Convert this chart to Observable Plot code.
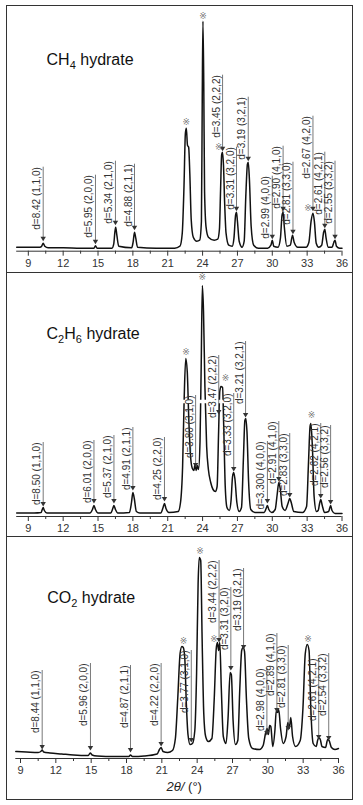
<!DOCTYPE html>
<html><head><meta charset="utf-8">
<script src="https://cdn.jsdelivr.net/npm/d3@7"></script>
<script src="https://cdn.jsdelivr.net/npm/@observablehq/plot@0.6"></script>
<style>
body{margin:0;background:#fff;font-family:"Liberation Sans",Arial,sans-serif;}
#frame{position:absolute;left:6px;top:5px;width:345px;border:1px solid #333;}
.panel + .panel{border-top:1px solid #333;}
.panel svg{display:block;}
</style></head><body><div id="frame"></div>
<script>
// ---- shared axis values ----
const majorTicks = [9, 12, 15, 18, 21, 24, 27, 30, 33, 36];
const minorTicks = [10.5, 13.5, 16.5, 19.5, 22.5, 25.5, 28.5, 31.5, 34.5];
const xLabel = "2θ/ (°)";
const titles = ["CH4 hydrate", "C2H6 hydrate", "CO2 hydrate"];

// ---- CH4 hydrate: [2θ, intensity] ----
const ch4Pattern = [[8,4],[9,4],[10,4],[10.15,5],[10.28,8],[10.42,5],[10.7,3.5],[12,3.5],[13.5,3],[14.65,3],[14.78,5.5],[14.92,3],[16.2,3],[16.35,7],[16.45,19],[16.52,24],[16.62,16],[16.78,5],[17.9,3.5],[18.02,9],[18.14,19],[18.25,13],[18.4,4],[20,3],[21.6,3],[22.05,5],[22.25,18],[22.4,65],[22.52,118],[22.6,123],[22.7,106],[22.8,104],[22.9,78],[23.02,32],[23.2,14],[23.5,10],[23.75,11],[23.9,30],[23.97,150],[24.03,230],[24.1,170],[24.17,60],[24.3,24],[24.5,14],[25.0,11],[25.3,12],[25.45,22],[25.55,62],[25.64,96],[25.71,99],[25.8,86],[25.9,48],[26.02,18],[26.25,6],[26.55,5],[26.7,13],[26.84,36],[26.92,39],[27.0,30],[27.15,10],[27.4,4],[27.58,10],[27.72,55],[27.86,87],[27.93,89],[28.03,72],[28.18,25],[28.4,6],[28.8,3],[29.6,3],[29.88,6],[30.0,11],[30.12,5],[30.5,4],[30.7,13],[30.84,36],[30.93,39],[31.03,25],[31.25,5],[31.55,6],[31.74,16],[31.88,9],[32.2,4],[32.9,4],[33.15,9],[33.34,30],[33.5,38],[33.62,30],[33.78,8],[34.0,4],[34.25,6],[34.42,19],[34.52,22],[34.62,14],[34.82,4],[35.15,4],[35.3,9],[35.4,11],[35.52,5],[35.8,3],[36,3]];
// [2θ, arrow tip, top of leader, text]
const ch4Labels = [
  [10.28, 12, 84, "d=8.42 (1,1,0)"],
  [14.78, 9, 76, "d=5.95 (2,0,0)"],
  [16.5, 28, 90, "d=5.34 (2,1,0)"],
  [18.14, 23, 87, "d=4.88 (2,1,1)"],
  [25.72, 102, 176, "d=3.45 (2,2,2)"],
  [26.92, 42, 104, "d=3.31 (3,2,0)"],
  [27.93, 92, 154, "d=3.19 (3,2,1)"],
  [30.0, 14, 75, "d=2.99 (4,0,0)"],
  [30.93, 42, 105, "d=2.90 (4,1,0)"],
  [31.78, 19, 89, "d=2.81 (3,3,0)"],
  [33.5, 42, 135, "d=2.67 (4,2,0)"],
  [34.52, 25, 99, "d=2.61 (4,2,1)"],
  [35.4, 14, 90, "d=2.55 (3,3,2)"]
];
const ch4Stars = [[22.6, 129], [24.03, 235], [25.4, 104], [33.08, 43]];

// ---- C2H6 hydrate ----
const c2h6Pattern = [[8,3.5],[9.5,3.5],[10.1,4],[10.2,7],[10.28,9],[10.38,6],[10.6,3.5],[12,3.5],[14.3,3.5],[14.52,7],[14.65,11],[14.78,7],[15.0,3.5],[16.1,3.5],[16.27,8],[16.37,11],[16.5,7],[16.7,3.5],[17.7,4],[17.88,14],[18.0,24],[18.12,18],[18.3,5],[18.6,3.5],[20.4,3.5],[20.6,9],[20.72,13],[20.85,8],[21.1,4],[21.9,5],[22.1,14],[22.28,50],[22.42,120],[22.55,158],[22.68,145],[22.82,95],[22.98,58],[23.12,48],[23.25,46],[23.35,52],[23.45,46],[23.55,51],[23.65,47],[23.78,75],[23.88,150],[23.98,231],[24.08,205],[24.2,130],[24.35,70],[24.5,47],[24.7,34],[24.9,27],[25.1,25],[25.25,30],[25.38,85],[25.48,125],[25.58,130],[25.72,129],[25.82,90],[25.95,30],[26.1,9],[26.3,6],[26.45,16],[26.58,40],[26.68,44],[26.78,38],[26.95,14],[27.15,5],[27.35,9],[27.52,60],[27.64,96],[27.72,98],[27.82,85],[27.96,35],[28.15,7],[28.5,4],[29.3,4],[29.47,8],[29.58,11],[29.7,7],[29.95,4],[30.25,7],[30.42,22],[30.56,34],[30.68,28],[30.85,10],[31.1,6],[31.35,13],[31.5,18],[31.63,14],[31.85,5],[32.6,4],[32.95,10],[33.12,55],[33.25,90],[33.32,93],[33.45,70],[33.6,20],[33.8,5],[33.95,6],[34.07,13],[34.17,17],[34.3,11],[34.5,4],[34.85,5],[35.02,11],[35.14,6],[35.4,3],[36,3]];
const c2h6Labels = [
  [10.28, 12, 74, "d=8.50 (1,1,0)"],
  [14.65, 15, 76, "d=6.01 (2,0,0)"],
  [16.37, 15, 81, "d=5.37 (2,1,0)"],
  [18.0, 28, 89, "d=4.91 (2,1,1)"],
  [20.72, 17, 79, "d=4.25 (2,2,0)"],
  [23.4, 51, 121, "d=3.80 (3,1,0)"],
  [25.39, 104, 161, "d=3.47 (2,2,2)"],
  [26.68, 47, 123, "d=3.33 (3,2,0)"],
  [27.7, 101, 175, "d=3.21 (3,2,1)"],
  [29.58, 15, 75, "d=3.300 (4,0,0)"],
  [30.56, 37, 95, "d=2.91 (4,1,0)"],
  [31.5, 21, 83, "d=2.83 (3,3,0)"],
  [34.17, 20, 93, "d=2.62 (4,2,1)"],
  [35.02, 14, 91, "d=2.56 (3,3,2)"]
];
const c2h6Stars = [[22.58, 164], [23.98, 239], [25.97, 138], [33.38, 101]];
const c2h6Gap = [[22.3, 25.95, 115]];

// ---- CO2 hydrate ----
const co2Pattern = [[8.6,7],[9.5,6.5],[10.5,6],[10.72,7],[10.84,8.5],[10.96,6.5],[11.5,5.5],[12.5,4.5],[13.5,3.5],[14.75,3],[14.92,5.5],[15.08,3.5],[15.5,2.5],[17,2],[18.2,2],[18.34,3.5],[18.5,2],[19.5,2.5],[20.6,4.5],[20.8,9],[20.94,11],[21.1,7],[21.5,6],[21.9,8],[22.15,20],[22.35,60],[22.55,105],[22.7,112],[22.82,111],[22.95,100],[23.08,55],[23.22,24],[23.4,14],[23.6,15],[23.8,28],[23.95,85],[24.08,175],[24.18,201],[24.3,198],[24.42,120],[24.56,45],[24.72,22],[24.95,17],[25.25,20],[25.45,60],[25.62,110],[25.72,116],[25.82,108],[25.92,116],[26.05,70],[26.22,22],[26.45,15],[26.62,40],[26.8,86],[26.9,84],[27.05,38],[27.25,14],[27.45,18],[27.62,70],[27.78,108],[27.9,111],[28.02,107],[28.18,60],[28.38,20],[28.7,10],[29.3,9],[29.6,13],[29.82,26],[29.94,30],[30.05,24],[30.15,33],[30.25,32],[30.42,12],[30.6,28],[30.72,48],[30.82,46],[30.92,49],[31.08,30],[31.3,15],[31.55,22],[31.7,36],[31.82,30],[31.95,41],[32.1,22],[32.35,12],[32.75,18],[32.98,50],[33.18,105],[33.35,114],[33.5,108],[33.65,50],[33.85,15],[34.1,12],[34.28,20],[34.42,20],[34.6,12],[34.9,11],[35.08,19],[35.2,18],[35.4,11],[35.7,9],[36,10]];
const co2Labels = [
  [10.84, 11, 88, "d=8.44 (1,1,0)"],
  [14.94, 10, 95, "d=5.96 (2,0,0)"],
  [18.34, 8, 93, "d=4.87 (2,1,1)"],
  [20.94, 14, 95, "d=4.22 (2,2,0)"],
  [23.5, 18, 108, "d=3.77 (3,1,0)"],
  [25.86, 118, 198, "d=3.44 (2,2,2)"],
  [26.86, 90, 171, "d=3.31 (3,2,0)"],
  [27.94, 111, 190, "d=3.19 (3,2,1)"],
  [29.92, 25, 90, "d=2.98 (4,0,0)"],
  [30.77, 48, 125, "d=2.89 (4,1,0)"],
  [31.73, 30, 113, "d=2.81 (3,3,0)"],
  [34.32, 21, 100, "d=2.61 (4,2,1)"],
  [35.17, 20, 105, "d=2.54 (3,3,2)"]
];
const co2Stars = [[22.84, 117], [24.25, 207], [25.44, 119], [33.42, 119]];

const FONT = '"Liberation Sans", Arial, sans-serif';

function panel(cfg) {
  const labs = cfg.labels.map(([x, tip, top, text]) => ({x, tip, top, text}));
  const marks = [
    Plot.ruleY([0], {stroke: "#333", strokeWidth: 1}),
    Plot.axisX({ticks: minorTicks, tickSize: 3, tickFormat: () => "", color: "#333", label: null}),
    Plot.axisX({ticks: majorTicks, tickSize: 5, tickPadding: 3, fontSize: 11, color: "#333", label: null}),
    Plot.line(cfg.pattern, {x: d => d[0], y: d => d[1], stroke: "#111", strokeWidth: 1.5, curve: "monotone-x"})
  ];
  if (cfg.gap) marks.push(Plot.ruleY(cfg.gap, {x1: d => d[0], x2: d => d[1], y: d => d[2], stroke: "white", strokeWidth: 3.5}));
  marks.push(
    Plot.ruleX(labs, {x: "x", y1: "tip", y2: "top", stroke: "#555", strokeWidth: 0.8}),
    Plot.dot(labs, {x: "x", y: "tip", symbol: "triangle", r: 2, rotate: 180, fill: "#333", stroke: null, dy: -1}),
    Plot.text(labs, {x: "x", y: "top", text: "text", rotate: -90, textAnchor: "end", lineAnchor: "bottom", dx: -3, fontSize: 10, fill: "#333"}),
    Plot.text(cfg.stars, {x: d => d[0], y: d => d[1], text: () => "※", fontSize: 9, fill: "#777", fontFamily: '"DejaVu Sans", "Noto Sans CJK SC"'}),
    Plot.text([cfg.title], {x: cfg.titleX, y: cfg.titleY, text: d => d, textAnchor: "start", fontSize: 16, fill: "#111"})
  );
  if (cfg.xlab) marks.push(Plot.text([xLabel], {x: cfg.xlabX, frameAnchor: "bottom", dy: 32, text: d => d, fontSize: 13, fill: "#222"}));
  const svg = Plot.plot({
    width: 345, height: cfg.height,
    marginLeft: cfg.ml, marginRight: cfg.mr, marginTop: 0, marginBottom: cfg.mb,
    x: {domain: cfg.xDomain},
    y: {domain: [0, cfg.yMax], axis: null},
    style: {fontFamily: FONT, background: "white", overflow: "visible"},
    marks
  });
  d3.select(svg).selectAll("text").each(function () {
    const t = this.textContent;
    const sel = d3.select(this);
    if (titles.includes(t)) {
      sel.text("");
      let off = 0;
      t.split(/(\d)/).filter(s => s !== "").forEach(p => {
        const sub = /^\d$/.test(p);
        const target = sub ? 4 : 0;
        const ts = sel.append("tspan").attr("dy", target - off).text(p);
        if (sub) ts.attr("font-size", 11);
        off = target;
      });
    } else if (t === xLabel) {
      sel.text("");
      sel.append("tspan").attr("font-style", "italic").text("2θ/");
      sel.append("tspan").text(" (°)");
    }
  });
  const div = document.createElement("div");
  div.className = "panel";
  div.appendChild(svg);
  document.getElementById("frame").appendChild(div);
}

panel({pattern: ch4Pattern, labels: ch4Labels, stars: ch4Stars, title: titles[0], titleX: 10.57, titleY: 191,
  height: 266, ml: 9.2, mr: 10.5, mb: 21.3, xDomain: [8, 36], yMax: 244.7});
panel({pattern: c2h6Pattern, labels: c2h6Labels, stars: c2h6Stars, gap: c2h6Gap, title: titles[1], titleX: 10.57, titleY: 183,
  height: 263, ml: 9.2, mr: 10.5, mb: 20, xDomain: [8, 36], yMax: 243});
panel({pattern: co2Pattern, labels: co2Labels, stars: co2Stars, title: titles[2], titleX: 11.27, titleY: 161,
  height: 262, ml: 8.3, mr: 14, mb: 41, xDomain: [8.6, 36], yMax: 221, xlab: true, xlabX: 22.9});
</script></body></html>
